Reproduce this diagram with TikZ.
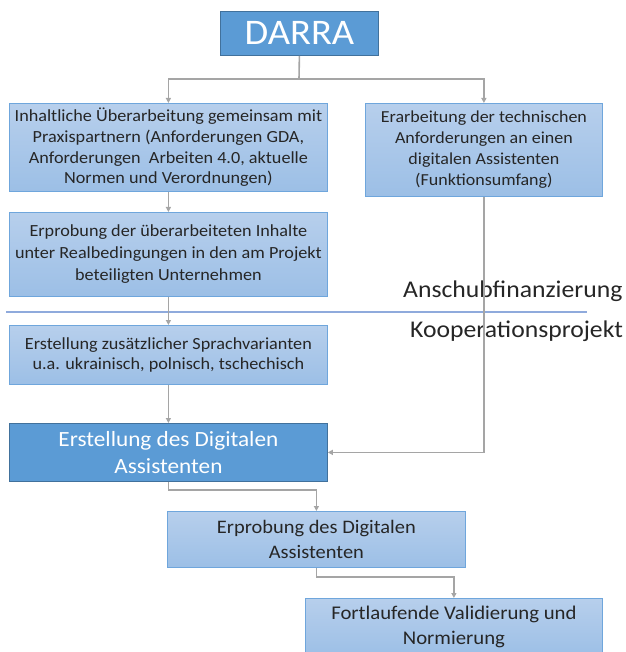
\documentclass[tikz,border=0pt]{standalone}
\usepackage{fontspec}
\setmainfont{Carlito}[FakeStretch=1.07]
\usetikzlibrary{arrows.meta}
\definecolor{darkfill}{HTML}{5B9BD5}
\definecolor{darkline}{HTML}{41719C}
\definecolor{lighttop}{HTML}{B7CFEC}
\definecolor{lightbot}{HTML}{9CBFE6}
\definecolor{lightline}{HTML}{6FA6DC}
\definecolor{connc}{HTML}{A5A5A5}
\definecolor{sepline}{HTML}{8FAADC}
\definecolor{txt}{HTML}{262626}
\tikzset{
  darkbox/.style={draw=darkline, line width=0.8pt, fill=darkfill, text=white, align=center, anchor=north west, inner sep=0pt},
  lightbox/.style={draw=lightline, line width=0.8pt, top color=lighttop, bottom color=lightbot, text=txt, align=center, anchor=north west, inner sep=0pt, font=\fontsize{17}{20.8}\selectfont},
  conn/.style={draw=connc, line width=1.6pt, -{Triangle[length=5pt,width=5pt]}},
  label/.style={text=txt, font=\fontsize{24}{28}\selectfont, inner sep=0pt}
}
\begin{document}
\begin{tikzpicture}[x=1pt,y=-1pt]
\useasboundingbox (0,0) rectangle (625,652);
\clip (0,0) rectangle (625,652);
\node[darkbox, minimum width=158pt, minimum height=44pt, font=\fontsize{36}{40}\selectfont] (darra) at (220,11) {DARRA};
\node[lightbox, minimum width=318pt, minimum height=88pt] (A) at (9,103) {Inhaltliche Überarbeitung gemeinsam mit\\Praxispartnern (Anforderungen GDA,\\Anforderungen\ \ Arbeiten 4.0, aktuelle\\Normen und Verordnungen)};
\node[lightbox, minimum width=237pt, minimum height=93pt, font=\fontsize{16.8}{21}\selectfont] (B) at (365,103) {Erarbeitung der technischen\\Anforderungen an einen\\digitalen Assistenten\\(Funktionsumfang)};
\node[lightbox, minimum width=318pt, minimum height=84pt, font=\fontsize{17}{22}\selectfont] (C) at (9,212) {Erprobung der überarbeiteten Inhalte\\unter Realbedingungen in den am Projekt\\beteiligten Unternehmen};
\node[lightbox, minimum width=318pt, minimum height=59pt] (D) at (9,325) {Erstellung zusätzlicher Sprachvarianten\\u.a. ukrainisch, polnisch, tschechisch};
\node[darkbox, minimum width=318pt, minimum height=58pt, font=\fontsize{21.7}{27}\selectfont] (E) at (9,423) {Erstellung des Digitalen\\Assistenten};
\node[lightbox, minimum width=298pt, minimum height=56pt, font=\fontsize{19.1}{24.5}\selectfont] (F) at (167,511) {Erprobung des Digitalen\\Assistenten};
\node[lightbox, minimum width=297pt, minimum height=58pt, font=\fontsize{19.4}{25}\selectfont] (G) at (305,598) {Fortlaufende Validierung und\\Normierung};
\coordinate (s1) at (6,312);
\coordinate (s2) at (587,312);
\draw[sepline, line width=1.2pt] (s1) -- (s2);
\node[label, anchor=west] (anschub) at (403,291) {Anschubfinanzierung};
\node[label, anchor=west] (koop) at (410,331) {Kooperationsprojekt};
\coordinate (split) at (299,79);
\draw[draw=connc, line width=1.6pt] (darra.south) -- (split);
\draw[conn] (split) -| (A.north);
\draw[conn] (split) -| (B.north);
\draw[conn] (A.south) -- (C.north);
\draw[conn] (C.south) -- (D.north);
\draw[conn] (D.south) -- (E.north);
\draw[conn] (B.south) |- (E.east);
\draw[conn] (E.south) -- ++(0,8) -| (F.north);
\draw[conn] (F.south) -- ++(0,9) -| (G.north);
\end{tikzpicture}
\end{document}
